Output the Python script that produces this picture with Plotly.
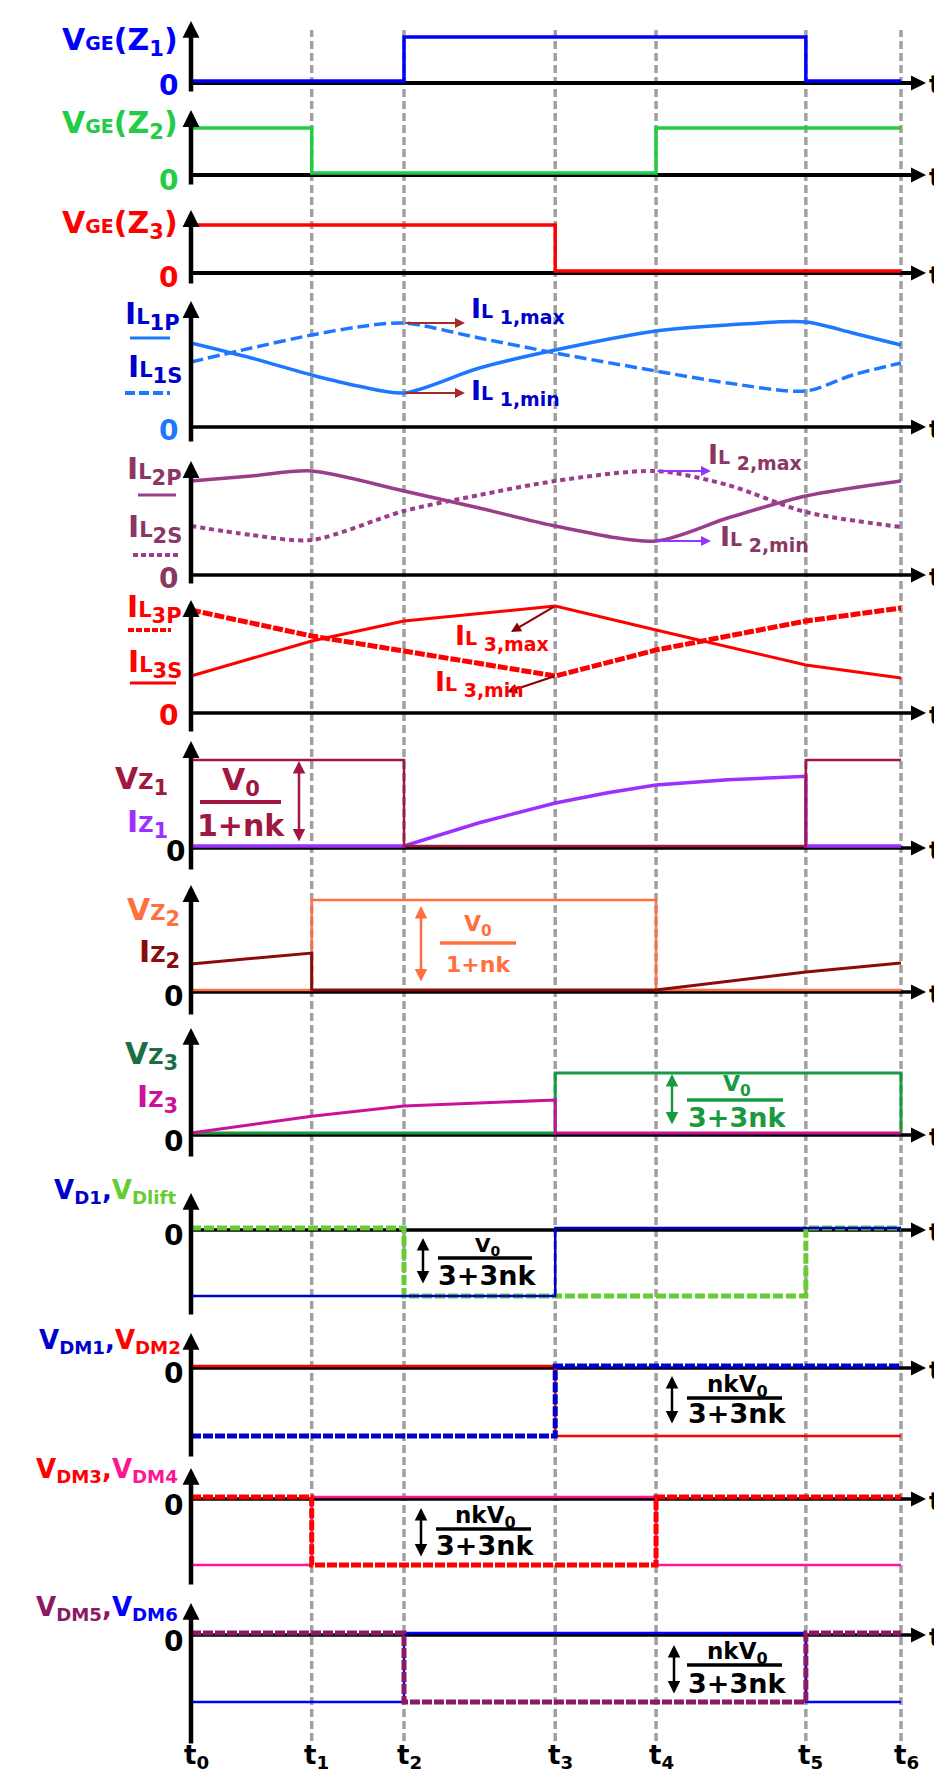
import plotly.graph_objects as go

W, H = 942, 1771
FONT = "DejaVu Sans"

# ---------------- data ----------------
T = [0.0, 1.70, 3.00, 5.13, 6.55, 8.66, 10.0]            # t0 .. t6
T_NAMES = ["t<sub>0</sub>", "t<sub>1</sub>", "t<sub>2</sub>", "t<sub>3</sub>",
           "t<sub>4</sub>", "t<sub>5</sub>", "t<sub>6</sub>"]

# gate-emitter voltages (normalised 0 / 1)
VGE1_X = [T[0], T[2], T[5], T[6]]
VGE1_Y = [0, 1, 0, 0]
VGE2_X = [T[0], T[1], T[4], T[6]]
VGE2_Y = [1, 0, 1, 1]
VGE3_X = [T[0], T[0], T[3], T[6]]
VGE3_Y = [0, 1, 0, 0]

# inductor currents
IL1_X = [0.0, 0.85, 1.70, 2.35, 3.00, 4.06, 5.13, 6.55, 7.56, 8.66, 9.32, 10.0]
IL1P_Y = [0.82, 0.67, 0.50, 0.39, 0.32, 0.57, 0.75, 0.94, 1.00, 1.03, 0.92, 0.80]
IL1S_Y = [0.63, 0.77, 0.90, 0.98, 1.02, 0.87, 0.72, 0.54, 0.42, 0.34, 0.50, 0.62]

IL2_X = [0.0, 0.85, 1.70, 3.00, 4.06, 5.13, 6.55, 7.56, 8.66, 10.0]
IL2P_Y = [0.92, 0.97, 1.02, 0.82, 0.65, 0.47, 0.32, 0.55, 0.77, 0.92]
IL2S_Y = [0.47, 0.38, 0.33, 0.62, 0.78, 0.92, 1.02, 0.88, 0.61, 0.46]

IL3_X = T
IL3P_Y = [1.01, 0.75, 0.60, 0.35, 0.61, 0.90, 1.03]
IL3S_Y = [0.35, 0.70, 0.90, 1.05, 0.81, 0.46, 0.33]

# Z-source network voltages / currents
VZ1_X = [T[0], T[2], T[5], T[6]]
VZ1_Y = [1, 0, 1, 1]
IZ1_X = [0.0, 3.00, 4.06, 5.13, 5.87, 6.55, 7.56, 8.66, 8.66, 10.0]
IZ1_Y = [0, 0, 0.27, 0.50, 0.62, 0.71, 0.77, 0.81, 0, 0]

VZ2_X = [T[0], T[1], T[4], T[6]]
VZ2_Y = [0, 1, 0, 0]
IZ2_X = [0.0, 1.70, 1.70, 6.55, 8.66, 10.0]
IZ2_Y = [0.29, 0.41, 0, 0, 0.20, 0.30]

VZ3_X = [T[0], T[3], T[6], T[6]]
VZ3_Y = [0, 1, 1, 0]
IZ3_X = [0.0, 1.70, 3.00, 4.06, 5.13, 5.13, 10.0]
IZ3_Y = [0, 0.28, 0.45, 0.50, 0.55, 0, 0]

# diode voltages (normalised 0 / -1)
VD1_X = [T[0], T[3], T[6]]
VD1_Y = [-1, 0, 0]
VDL_X = [T[0], T[2], T[5], T[6]]
VDL_Y = [0, -1, 0, 0]
VDM1_X = [T[0], T[3], T[6]]
VDM1_Y = [-1, 0, 0]
VDM2_X = [T[0], T[3], T[6]]
VDM2_Y = [0, -1, -1]
VDM3_X = [T[0], T[1], T[4], T[6]]
VDM3_Y = [0, -1, 0, 0]
VDM4_X = [T[0], T[1], T[4], T[6]]
VDM4_Y = [-1, 0, -1, -1]
VDM5_X = [T[0], T[2], T[5], T[6]]
VDM5_Y = [0, -1, 0, 0]
VDM6_X = [T[0], T[2], T[5], T[6]]
VDM6_Y = [-1, 0, -1, -1]

# ---------------- layout geometry (pixels) ----------------
X0PX, XSCALE = 183.0, 71.0
# (zero line px, px per unit, axis top px, axis bottom px)
PANEL_PX = [
    (73, 44, 13, 85), (165, 45, 102, 178), (263, 46, 202, 277),
    (417, 100, 293, 435), (565, 100, 453, 577), (703, 100, 592, 725),
    (838, 86, 733, 863), (982, 90, 877, 1008), (1125, 60, 1020, 1150),
    (1220, 68, 1185, 1308), (1358, 70, 1325, 1450), (1489, 68, 1460, 1578),
    (1625, 69, 1595, 1737),
]


def xd(px):
    return (px - X0PX) / XSCALE


def yd(n, py):
    pz, u, _, _ = PANEL_PX[n - 1]
    return (pz - py) / u


def yid(n):
    return "y" if n == 1 else f"y{n}"


XTIP = xd(918)

fig = go.Figure()


def add(n, x, y, color, width, dash="solid", shape="linear", smoothing=None):
    line = dict(color=color, width=width, dash=dash, shape=shape)
    if smoothing is not None:
        line["smoothing"] = smoothing
    fig.add_trace(go.Scatter(x=x, y=y, mode="lines", line=line, xaxis="x",
                             yaxis=yid(n), hoverinfo="skip", showlegend=False))


C_IL1 = "#1E78FF"
C_IL2 = "#9A3D8C"
C_IL2T = "#8B3766"
C_VZ1 = "#A0173F"
C_IZ1 = "#9B30FF"
C_VZ2 = "#FF7040"
C_IZ2 = "#8B0A0A"
C_VZ3 = "#1A9A40"
C_VZ3T = "#1B6E46"
C_IZ3 = "#CC1199"
C_LIFT = "#66CC33"
C_DB = "#0000CC"
C_PINK = "#FF1493"
C_M5 = "#8B1A62"

add(1, VGE1_X, VGE1_Y, "#0000FF", 3.5, shape="hv")
add(2, VGE2_X, VGE2_Y, "#22CC44", 3.5, shape="hv")
add(3, VGE3_X, VGE3_Y, "#FF0000", 3.5, shape="hv")
add(4, IL1_X, IL1P_Y, C_IL1, 3.5, shape="spline", smoothing=0.8)
add(4, IL1_X, IL1S_Y, C_IL1, 3.5, dash="12px,5px", shape="spline", smoothing=0.8)
add(5, IL2_X, IL2P_Y, C_IL2, 3.5, shape="spline", smoothing=0.8)
add(5, IL2_X, IL2S_Y, C_IL2, 4, dash="5px,4px", shape="spline", smoothing=0.8)
add(6, IL3_X, IL3S_Y, "#FF0000", 3)
add(6, IL3_X, IL3P_Y, "#FF0000", 5, dash="10px,2px")
add(7, IZ1_X, IZ1_Y, C_IZ1, 3.5)
add(7, VZ1_X, VZ1_Y, C_VZ1, 2.5, shape="hv")
add(8, VZ2_X, VZ2_Y, C_VZ2, 2.5, shape="hv")
add(8, IZ2_X, IZ2_Y, C_IZ2, 3)
add(9, VZ3_X, VZ3_Y, C_VZ3, 3, shape="hv")
add(9, IZ3_X, IZ3_Y, C_IZ3, 3)
add(10, VDL_X, VDL_Y, C_LIFT, 5, dash="10px,3px", shape="hv")
add(10, VD1_X, VD1_Y, C_DB, 2.5, shape="hv")
add(11, VDM2_X, VDM2_Y, "#FF0000", 2.5, shape="hv")
add(11, VDM1_X, VDM1_Y, C_DB, 5, dash="10px,2px", shape="hv")
add(12, VDM4_X, VDM4_Y, C_PINK, 2.5, shape="hv")
add(12, VDM3_X, VDM3_Y, "#FF0000", 5, dash="10px,2px", shape="hv")
add(13, VDM6_X, VDM6_Y, "#0000FF", 2.5, shape="hv")
add(13, VDM5_X, VDM5_Y, C_M5, 5, dash="10px,2px", shape="hv")

# ---------------- axes ----------------
lay = dict(
    width=W, height=H, margin=dict(l=0, r=0, t=0, b=0),
    paper_bgcolor="white", plot_bgcolor="white", showlegend=False,
    xaxis=dict(range=[xd(0), xd(W)], domain=[0, 1], visible=False, fixedrange=True),
)
for n, (pz, u, pt, pb) in enumerate(PANEL_PX, start=1):
    key = "yaxis" if n == 1 else f"yaxis{n}"
    lay[key] = dict(domain=[1 - pb / H, 1 - pt / H], range=[(pz - pb) / u, (pz - pt) / u],
                    visible=False, fixedrange=True, anchor="x")
fig.update_layout(**lay)

shapes = []
ann = []


def P(px, py):
    return px / W, 1 - py / H


def txt(s, px, py, size, color, xanchor="center"):
    x, y = P(px, py)
    ann.append(dict(text=s, x=x, y=y, xref="paper", yref="paper", showarrow=False,
                    xanchor=xanchor, yanchor="middle",
                    font=dict(family=FONT, size=size, color=color, weight="bold")))


for n, (pz, u, pt, pb) in enumerate(PANEL_PX, start=1):
    shapes.append(dict(type="line", xref="x", x0=0, x1=XTIP - 0.1, yref=yid(n),
                       ysizemode="pixel", yanchor=0, y0=-2, y1=-2,
                       line=dict(color="black", width=4 if n <= 3 else 3.5), layer="below"))
    ann.append(dict(x=0, y=(pz - pt) / u, xref="x", yref=yid(n), ax=0, ay=(pz - pb) / u,
                    axref="x", ayref=yid(n), showarrow=True, arrowhead=2, arrowsize=0.75,
                    arrowwidth=4.5, arrowcolor="black", text="", standoff=0))
    ann.append(dict(x=XTIP, y=0, xref="x", yref=yid(n), ax=-14, ay=0, showarrow=True,
                    arrowhead=2, arrowsize=0.75, arrowwidth=4, arrowcolor="black",
                    text="", standoff=0, yshift=-2))
    ann.append(dict(x=XTIP, y=0, xref="x", yref=yid(n), text="t", showarrow=False,
                    xanchor="left", yanchor="middle", xshift=1, yshift=-4,
                    font=dict(family=FONT, size=25, color="black", weight="bold")))

for t in T[1:]:
    shapes.append(dict(type="line", xref="x", x0=t, x1=t, yref="paper",
                       y0=1 - 1733 / H, y1=1 - 22 / H,
                       line=dict(color="#A0A0A0", width=3.5, dash="8px,4px"), layer="below"))

# ---------------- left labels ----------------
S = "<span style='font-size:{}px'>{}</span>"
txt("V" + S.format(19, "GE") + "(Z<sub>1</sub>)", 172, 33, 30, "#0000FF", "right")
txt("0", 172, 78, 28, "#0000FF", "right")
txt("V" + S.format(19, "GE") + "(Z<sub>2</sub>)", 172, 117, 30, "#22CC44", "right")
txt("0", 172, 172, 28, "#22CC44", "right")
txt("V" + S.format(19, "GE") + "(Z<sub>3</sub>)", 172, 217, 30, "#FF0000", "right")
txt("0", 172, 270, 28, "#FF0000", "right")

txt("I" + S.format(21, "L") + "<sub>1P</sub>", 174, 307, 30, C_DB, "right")
txt("I" + S.format(21, "L") + "<sub>1S</sub>", 176, 360, 30, C_DB, "right")
txt("0", 172, 422, 28, C_IL1, "right")
txt("I" + S.format(21, "L") + "<sub>2P</sub>", 176, 463, 30, C_IL2T, "right")
txt("I" + S.format(21, "L") + "<sub>2S</sub>", 176, 520, 30, C_IL2T, "right")
txt("0", 172, 570, 28, C_IL2T, "right")
txt("I" + S.format(21, "L") + "<sub>3P</sub>", 176, 600, 30, "#FF0000", "right")
txt("I" + S.format(21, "L") + "<sub>3S</sub>", 176, 655, 30, "#FF0000", "right")
txt("0", 172, 707, 28, "#FF0000", "right")


def swatch(x0, x1, py, color, width, dash):
    shapes.append(dict(type="line", xref="paper", yref="paper", x0=x0 / W, x1=x1 / W,
                       y0=1 - py / H, y1=1 - py / H, line=dict(color=color, width=width, dash=dash)))


swatch(122, 162, 330, C_IL1, 3, "solid")
swatch(117, 162, 385, C_IL1, 4, "10px,4px")
swatch(130, 168, 487, C_IL2, 3, "solid")
swatch(125, 170, 547, C_IL2, 4, "5px,3px")
swatch(120, 163, 622, "#FF0000", 4, "6px,2px")
swatch(122, 168, 675, "#FF0000", 3, "solid")

txt("V" + S.format(21, "Z") + "<sub>1</sub>", 162, 772, 30, C_VZ1, "right")
txt("I" + S.format(21, "Z") + "<sub>1</sub>", 162, 815, 30, C_IZ1, "right")
txt("0", 179, 843, 28, "black", "right")
txt("V" + S.format(21, "Z") + "<sub>2</sub>", 174, 903, 30, C_VZ2, "right")
txt("I" + S.format(21, "Z") + "<sub>2</sub>", 174, 945, 30, C_IZ2, "right")
txt("0", 177, 988, 28, "black", "right")
txt("V" + S.format(21, "Z") + "<sub>3</sub>", 172, 1047, 30, C_VZ3T, "right")
txt("I" + S.format(21, "Z") + "<sub>3</sub>", 172, 1090, 30, C_IZ3, "right")
txt("0", 177, 1133, 28, "black", "right")

txt("<span style='color:%s'>V<sub>D1</sub>,</span><span style='color:%s'>V<sub>Dlift</sub></span>"
    % (C_DB, C_LIFT), 170, 1183, 26, C_DB, "right")
txt("0", 177, 1227, 28, "black", "right")
txt("<span style='color:%s'>V<sub>DM1</sub>,</span><span style='color:#FF0000'>V<sub>DM2</sub></span>"
    % C_DB, 175, 1333, 26, C_DB, "right")
txt("0", 177, 1365, 28, "black", "right")
txt("<span style='color:#FF0000'>V<sub>DM3</sub>,</span><span style='color:%s'>V<sub>DM4</sub></span>"
    % C_PINK, 172, 1462, 26, "#FF0000", "right")
txt("0", 177, 1497, 28, "black", "right")
txt("<span style='color:%s'>V<sub>DM5</sub>,</span><span style='color:#0000FF'>V<sub>DM6</sub></span>"
    % C_M5, 172, 1600, 26, C_M5, "right")
txt("0", 177, 1633, 28, "black", "right")

# ---------------- max / min markers ----------------


def arrow(n, xt, yt, xh_px, yh, color, width=2):
    ann.append(dict(x=xd(xh_px), y=yh, xref="x", yref=yid(n), ax=xt, ay=yt,
                    axref="x", ayref=yid(n), showarrow=True, arrowhead=2, arrowsize=1,
                    arrowwidth=width, arrowcolor=color, text="", standoff=0, startstandoff=0))


arrow(4, T[2], IL1S_Y[4], 457, IL1S_Y[4], "#A52A2A")
arrow(4, T[2], IL1P_Y[4], 457, IL1P_Y[4], "#A52A2A")
txt("I" + S.format(19, "L") + "<sub> 1,max</sub>", 461, 303, 27, C_DB, "left")
txt("I" + S.format(19, "L") + "<sub> 1,min</sub>", 461, 384, 27, C_DB, "left")
arrow(5, T[4], IL2S_Y[6], 703, IL2S_Y[6], "#9933FF")
arrow(5, T[4], IL2P_Y[6], 703, IL2P_Y[6], "#9933FF")
txt("I" + S.format(19, "L") + "<sub> 2,max</sub>", 698, 449, 27, C_IL2T, "left")
txt("I" + S.format(19, "L") + "<sub> 2,min</sub>", 710, 531, 27, C_IL2T, "left")
arrow(6, T[3], IL3S_Y[3], 503, yd(6, 624), "#8B0000")
arrow(6, T[3], IL3P_Y[3], 499, yd(6, 684), "#8B0000")
txt("I" + S.format(19, "L") + "<sub> 3,max</sub>", 445, 629, 27, "#FF0000", "left")
txt("I" + S.format(19, "L") + "<sub> 3,min</sub>", 425, 676, 27, "#FF0000", "left")

# ---------------- magnitude annotations ----------------


def dbl(n, px, py0, py1, color, width=2.5):
    ann.append(dict(x=xd(px), y=yd(n, py0), xref="x", yref=yid(n), ax=xd(px), ay=yd(n, py1),
                    axref="x", ayref=yid(n), showarrow=True, arrowhead=2, arrowside="end+start",
                    arrowsize=1, arrowwidth=width, arrowcolor=color, text="", standoff=0,
                    startstandoff=0))


def frac(num, den, cx, y_num, y_bar, y_den, x0, x1, color, size_num, size_den, bar_w=3.5):
    txt(num, cx, y_num, size_num, color)
    txt(den, cx, y_den, size_den, color)
    shapes.append(dict(type="line", xref="paper", yref="paper", x0=x0 / W, x1=x1 / W,
                       y0=1 - y_bar / H, y1=1 - y_bar / H, line=dict(color=color, width=bar_w)))


V0 = "V<sub>0</sub>"
NKV0 = "nkV<sub>0</sub>"
dbl(7, 291, 753, 835, C_VZ1)
frac(V0, "1+nk", 233, 773, 794, 817, 192, 273, C_VZ1, 30, 30, 4)
dbl(8, 413, 898, 975, C_VZ2)
frac(V0, "1+nk", 470, 917, 935, 956, 432, 508, C_VZ2, 22, 22)
dbl(9, 664, 1066, 1118, C_VZ3)
frac(V0, "3+3nk", 729, 1077, 1092, 1109, 679, 775, C_VZ3, 22, 27)
dbl(10, 415, 1230, 1277, "black")
frac(V0, "3+3nk", 479, 1238, 1250, 1267, 430, 524, "black", 20, 27)
dbl(11, 664, 1368, 1417, "black")
frac(NKV0, "3+3nk", 729, 1378, 1390, 1405, 679, 774, "black", 23, 27)
dbl(12, 413, 1500, 1550, "black")
frac(NKV0, "3+3nk", 477, 1509, 1521, 1537, 428, 523, "black", 23, 27)
dbl(13, 666, 1637, 1687, "black")
frac(NKV0, "3+3nk", 729, 1645, 1657, 1675, 679, 774, "black", 23, 27)

# ---------------- bottom time labels ----------------
for t, name in zip(T, T_NAMES):
    ann.append(dict(x=t, y=1 - 1748 / H, xref="x", yref="paper", text=name, showarrow=False,
                    xanchor="center", yanchor="middle", xshift=5,
                    font=dict(family=FONT, size=26, color="black", weight="bold")))

fig.update_layout(shapes=shapes, annotations=ann)
fig.write_html("out.html")
